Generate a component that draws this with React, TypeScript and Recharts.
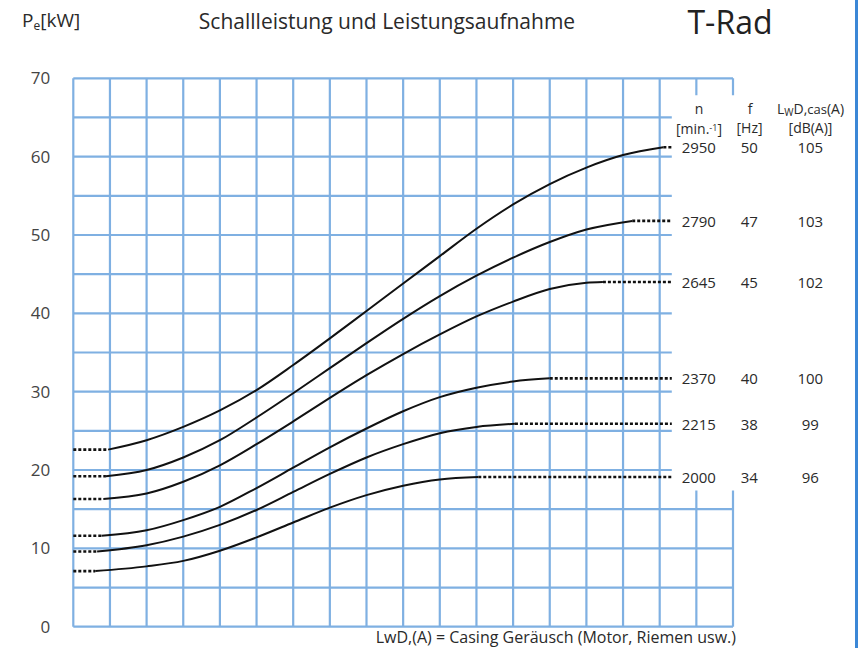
import React from 'react';
import { LineChart, Line, XAxis, YAxis, CartesianGrid, ReferenceArea, LabelList } from 'recharts';

// ---- data ----
const speeds = ['2950', '2790', '2645', '2370', '2215', '2000'];
const freqs = ['50', '47', '45', '40', '38', '34'];
const levels = ['105', '103', '102', '100', '99', '96'];

const cols2950 = [0.95, 2, 3, 4, 5, 6, 7, 8, 9, 10, 11, 12, 13, 14, 15, 16.1];
const kw2950 = [22.6, 23.8, 25.5, 27.6, 30.2, 33.4, 36.8, 40.3, 43.8, 47.3, 50.8, 53.9, 56.5, 58.6, 60.2, 61.2];

const cols2790 = [0.89, 2, 3, 4, 5, 6, 7, 8, 9, 10, 11, 12, 13, 14, 15.25];
const kw2790 = [19.2, 20.0, 21.6, 23.8, 26.7, 29.8, 33.0, 36.2, 39.3, 42.2, 44.8, 47.1, 49.1, 50.7, 51.8];

const cols2645 = [0.82, 2, 3, 4, 5, 6, 7, 8, 9, 10, 11, 12, 13, 14, 14.45];
const kw2645 = [16.3, 17.0, 18.5, 20.6, 23.3, 26.2, 29.2, 32.1, 34.8, 37.3, 39.6, 41.5, 43.1, 43.9, 44.0];

const cols2370 = [0.77, 2, 3, 4, 5, 6, 7, 8, 9, 10, 11, 12, 13];
const kw2370 = [11.6, 12.3, 13.6, 15.3, 17.7, 20.3, 22.9, 25.3, 27.5, 29.3, 30.5, 31.3, 31.7];

const cols2215 = [0.65, 2, 3, 4, 5, 6, 7, 8, 9, 10, 11, 12.05];
const kw2215 = [9.6, 10.4, 11.5, 13.0, 14.9, 17.2, 19.5, 21.6, 23.3, 24.7, 25.5, 25.9];

const cols2000 = [0.6, 2, 3, 4, 5, 6, 7, 8, 9, 10, 11.05];
const kw2000 = [7.1, 7.7, 8.4, 9.7, 11.4, 13.3, 15.2, 16.8, 18.0, 18.8, 19.1];

const dottedEnd = 16.33;
const yTicks = [0, 5, 10, 15, 20, 25, 30, 35, 40, 45, 50, 55, 60, 65, 70];
const xTicks = [0, 1, 2, 3, 4, 5, 6, 7, 8, 9, 10, 11, 12, 13, 14, 15, 16, 17, 18];

// ---- derived ----
type Pt = { c: number; p: number };
const curveCols = [cols2950, cols2790, cols2645, cols2370, cols2215, cols2000];
const curveKw = [kw2950, kw2790, kw2645, kw2370, kw2215, kw2000];
const solid: Pt[][] = curveCols.map((cs, k) => cs.map((c, i) => ({ c, p: curveKw[k][i] })));
const leftDots: Pt[][] = solid.map((s) => [{ c: 0, p: s[0].p }, { c: s[0].c, p: s[0].p }]);
const rightDots: Pt[][] = solid.map((s) => {
  const last = s[s.length - 1];
  return [{ c: last.c, p: last.p }, { c: dottedEnd, p: last.p }];
});

const FONT = '"Open Sans", "Noto Sans", sans-serif';
const GRID = '#7fb0e2';
const TXT = '#2a2a2a';

const rowLabel = (i: number) => (props: any) => {
  const { x, y, index } = props;
  if (index !== 1) return <g />;
  return (
    <g fontFamily={FONT} fontSize={15} fill={TXT}>
      <text x={x + 27} y={y} textAnchor="middle" dominantBaseline="central">{speeds[i]}</text>
      <text x={x + 77.5} y={y} textAnchor="middle" dominantBaseline="central">{freqs[i]}</text>
      <text x={x + 138.5} y={y} textAnchor="middle" dominantBaseline="central">{levels[i]}</text>
    </g>
  );
};

export default function App() {
  return (
    <div style={{ position: 'absolute', left: 0, top: 0, width: 862, height: 648, background: '#fff', fontFamily: FONT, color: TXT }}>
      <LineChart width={862} height={648} margin={{ top: 78.3, right: 129, bottom: 21.3, left: 10 }}>
        <CartesianGrid stroke={GRID} strokeWidth={2.2} />
        <XAxis dataKey="c" type="number" domain={[0, 18]} ticks={xTicks} hide allowDuplicatedCategory={false} />
        <YAxis
          type="number"
          domain={[0, 70]}
          ticks={yTicks}
          width={63.3}
          axisLine={false}
          tickLine={false}
          tickSize={0}
          tickMargin={23}
          interval={0}
          tickFormatter={(v: number) => (v % 10 === 0 ? String(v) : '')}
          tick={{ fill: '#444', fontSize: 17, fontFamily: FONT }}
        />
        <ReferenceArea x1={dottedEnd} x2={18.1} y1={17.4} y2={67.85} fill="#fff" fillOpacity={1} stroke="none" ifOverflow="visible" />
        {solid.map((d, i) => (
          <Line key={'s' + i} data={d} dataKey="p" type="monotone" stroke="#111" strokeWidth={2} dot={false} activeDot={false} isAnimationActive={false} />
        ))}
        {leftDots.map((d, i) => (
          <Line key={'l' + i} data={d} dataKey="p" type="linear" stroke="#111" strokeWidth={2.6} strokeDasharray="3 2" dot={false} activeDot={false} isAnimationActive={false} />
        ))}
        {rightDots.map((d, i) => (
          <Line key={'r' + i} data={d} dataKey="p" type="linear" stroke="#111" strokeWidth={2.6} strokeDasharray="3 2" dot={false} activeDot={false} isAnimationActive={false}>
            <LabelList dataKey="p" content={rowLabel(i)} />
          </Line>
        ))}
      </LineChart>

      <div style={{ position: 'absolute', left: 22, top: 7, fontSize: 19, lineHeight: '26px', whiteSpace: 'nowrap' }}>
        P<sub style={{ fontSize: 12, verticalAlign: '-3px' }}>e</sub>[kW]
      </div>
      <div style={{ position: 'absolute', left: 387, top: 7, transform: 'translateX(-50%)', fontSize: 21, lineHeight: '28px', whiteSpace: 'nowrap' }}>
        Schallleistung und Leistungsaufnahme
      </div>
      <div style={{ position: 'absolute', left: 730, top: 0, transform: 'translateX(-50%)', fontSize: 32, lineHeight: 'normal', whiteSpace: 'nowrap', color: '#222' }}>
        T-Rad
      </div>

      <div style={{ position: 'absolute', left: 699, top: 99, transform: 'translateX(-50%)', fontSize: 14, lineHeight: '20px', whiteSpace: 'nowrap' }}>n</div>
      <div style={{ position: 'absolute', left: 750, top: 99, transform: 'translateX(-50%)', fontSize: 14, lineHeight: '20px', whiteSpace: 'nowrap' }}>f</div>
      <div style={{ position: 'absolute', left: 810.5, top: 99, transform: 'translateX(-50%)', fontSize: 14, lineHeight: '20px', whiteSpace: 'nowrap' }}>
        L<sub style={{ fontSize: 10, verticalAlign: '-2px' }}>W</sub>D,<span style={{ fontSize: 13 }}>cas</span>(A)
      </div>
      <div style={{ position: 'absolute', left: 699, top: 118, transform: 'translateX(-50%)', fontSize: 14, lineHeight: '20px', whiteSpace: 'nowrap' }}>
        [min.<sup style={{ fontSize: 9, verticalAlign: '3px' }}>-1</sup>]
      </div>
      <div style={{ position: 'absolute', left: 749.5, top: 118, transform: 'translateX(-50%)', fontSize: 14, lineHeight: '20px', whiteSpace: 'nowrap' }}>[Hz]</div>
      <div style={{ position: 'absolute', left: 810.5, top: 118, transform: 'translateX(-50%)', fontSize: 14, lineHeight: '20px', whiteSpace: 'nowrap' }}>[dB(A)]</div>

      <div style={{ position: 'absolute', right: 862 - 736, top: 627, fontSize: 16, lineHeight: '20px', whiteSpace: 'nowrap' }}>
        LwD,(A) = Casing Geräusch (Motor, Riemen usw.)
      </div>

      <div style={{ position: 'absolute', left: 855, top: 0, width: 3, height: 648, background: '#3b87d6' }} />
    </div>
  );
}
